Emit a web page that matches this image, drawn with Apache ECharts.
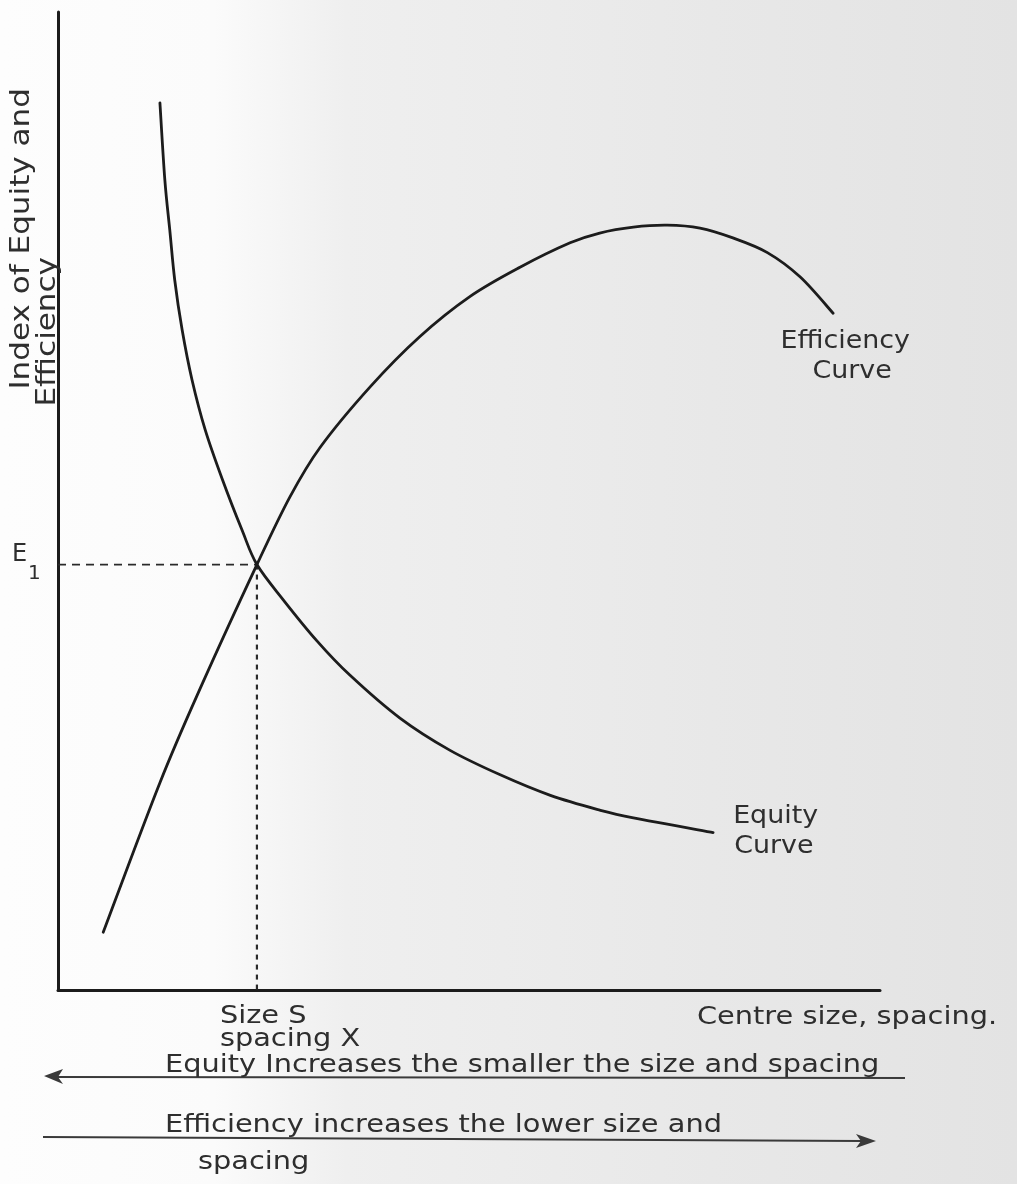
<!DOCTYPE html>
<html>
<head>
<meta charset="utf-8">
<title>Equity and Efficiency against Centre Size</title>
<script src="https://cdn.jsdelivr.net/npm/echarts@6/dist/echarts.min.js"></script>
<style>
  html, body { margin: 0; padding: 0; background: #ffffff; }
  #chart { width: 1017px; height: 1184px; }
</style>
</head>
<body>
<div id="chart"></div>
<script>
// Index values (0-100) against centre size / spacing (0-100)
const efficiencyX = [5.5, 12.4, 17.6, 24.2, 28.2, 31.9, 38.0, 44.0, 50.1, 56.2, 62.3, 65.9, 70.0, 74.1, 78.1, 82.1, 86.3, 90.3, 94.3];
const efficiencyY = [5.9, 21.2, 31.4, 43.5, 50.4, 55.5, 61.7, 66.8, 70.9, 73.9, 76.4, 77.4, 78.0, 78.2, 77.9, 76.9, 75.4, 72.9, 69.2];

const equityX = [12.4, 13.0, 13.6, 14.2, 15.1, 16.3, 17.9, 20.0, 22.4, 24.2, 27.4, 31.5, 35.5, 41.6, 47.7, 53.8, 59.9, 65.9, 70.0, 79.7];
const equityY = [90.7, 82.8, 77.7, 72.6, 67.5, 62.4, 57.3, 52.2, 47.0, 43.5, 39.9, 35.7, 32.2, 27.8, 24.5, 22.0, 19.9, 18.4, 17.6, 16.1];

// Where the two curves cross: size S / spacing X, index E1
const crossPoint = [24.2, 43.5];

const axisRange = { xMin: 0, xMax: 100, yMin: 0, yMax: 100 };

const zip = (xs, ys) => xs.map((x, i) => [x, ys[i]]);

const INK = '#1c1c1c';
const TEXT = '#2e2e2e';
const FONT = 'DejaVu Sans';

// Draws one curve as a Catmull-Rom spline through its points, in pixel space
function splineSeries(name, xs, ys) {
  return {
    name: name, type: 'custom', data: zip(xs, ys),
    encode: { x: 0, y: 1 }, z: 5, silent: true,
    renderItem: function (params, api) {
      if (params.dataIndex !== 0) return null;
      const p = xs.map((x, i) => api.coord([x, ys[i]]));
      let d = 'M' + p[0][0] + ' ' + p[0][1];
      for (let i = 0; i < p.length - 1; i++) {
        const p0 = p[Math.max(i - 1, 0)], p1 = p[i], p2 = p[i + 1], p3 = p[Math.min(i + 2, p.length - 1)];
        const c1x = p1[0] + (p2[0] - p0[0]) / 6, c1y = p1[1] + (p2[1] - p0[1]) / 6;
        const c2x = p2[0] - (p3[0] - p1[0]) / 6, c2y = p2[1] - (p3[1] - p1[1]) / 6;
        d += ' C' + c1x + ' ' + c1y + ' ' + c2x + ' ' + c2y + ' ' + p2[0] + ' ' + p2[1];
      }
      return {
        type: 'path', shape: { pathData: d },
        style: { stroke: INK, lineWidth: 2.8, fill: 'none', lineCap: 'round', lineJoin: 'round' }
      };
    }
  };
}

const chart = echarts.init(document.getElementById('chart'), null, { renderer: 'canvas' });

chart.setOption({
  animation: false,
  backgroundColor: {
    type: 'linear', x: 0, y: 0, x2: 1, y2: 0,
    colorStops: [
      { offset: 0, color: '#fdfdfd' },
      { offset: 0.21, color: '#fbfbfb' },
      { offset: 0.34, color: '#efefef' },
      { offset: 0.7, color: '#e8e8e8' },
      { offset: 1, color: '#e3e3e3' }
    ]
  },
  grid: { left: 58, right: 137, top: 12, bottom: 194 },
  xAxis: {
    type: 'value', min: axisRange.xMin, max: axisRange.xMax,
    axisLine: { show: true, lineStyle: { color: INK, width: 3 } },
    axisTick: { show: false }, axisLabel: { show: false }, splitLine: { show: false }
  },
  yAxis: {
    type: 'value', min: axisRange.yMin, max: axisRange.yMax,
    axisLine: { show: true, lineStyle: { color: INK, width: 3 } },
    axisTick: { show: false }, axisLabel: { show: false }, splitLine: { show: false }
  },
  series: [
    splineSeries('Efficiency Curve', efficiencyX, efficiencyY),
    splineSeries('Equity Curve', equityX, equityY),
    {
      name: 'E1 level', type: 'line',
      data: [[axisRange.xMin, crossPoint[1]], crossPoint],
      showSymbol: false, symbol: 'none',
      lineStyle: { color: '#2a2a2a', width: 1.8, type: [8, 6] }, z: 3
    },
    {
      name: 'Size S', type: 'line',
      data: [crossPoint, [crossPoint[0], axisRange.yMin]],
      showSymbol: false, symbol: 'none',
      lineStyle: { color: '#2a2a2a', width: 2.2, type: [5, 5] }, z: 3
    }
  ]
});

// Annotation text, placed relative to the curves where it labels them
const px = p => chart.convertToPixel({ gridIndex: 0 }, p);
const effEnd = px([efficiencyX[efficiencyX.length - 1], efficiencyY[efficiencyY.length - 1]]);
const eqEnd = px([equityX[equityX.length - 1], equityY[equityY.length - 1]]);
const cross = px(crossPoint);

function label(text, x, y, opts) {
  opts = opts || {};
  return {
    type: 'text', x: x, y: y,
    scaleX: opts.scaleX || 1, rotation: opts.rotation || 0,
    z: 10,
    style: {
      text: text, fill: opts.fill || TEXT,
      fontFamily: FONT, fontSize: opts.size || 21,
      align: opts.align || 'left', verticalAlign: opts.vAlign || 'middle'
    }
  };
}

const bottomText = { size: 24, scaleX: 1.2 };
const curveText = { size: 24, scaleX: 1.12, align: 'center' };

chart.setOption({
  graphic: [
    // vertical axis title
    label('Index of Equity and', 22, 88, { size: 27, scaleX: 1.15, rotation: Math.PI / 2, align: 'right' }),
    label('Efficiency', 48, 257, { size: 27, scaleX: 1.15, rotation: Math.PI / 2, align: 'right' }),

    // E1 marker on the vertical axis
    label('E', 12, cross[1] - 10, { size: 24 }),
    label('1', 28, cross[1] + 9, { size: 20 }),

    // curve names
    label('Efficiency', effEnd[0] + 12, effEnd[1] + 29, curveText),
    label('Curve', effEnd[0] + 19, effEnd[1] + 59, curveText),
    label('Equity', eqEnd[0] + 20, eqEnd[1] - 16, { size: 24, scaleX: 1.12 }),
    label('Curve', eqEnd[0] + 21, eqEnd[1] + 14, { size: 24, scaleX: 1.12 }),

    // horizontal axis annotations
    label('Size S', cross[0] - 37, 1017, bottomText),
    label('spacing X', cross[0] - 37, 1040, bottomText),
    label('Centre size, spacing.', 697, 1018, bottomText),

    // equity direction arrow (points left)
    label('Equity Increases the smaller the size and spacing', 165, 1066, bottomText),
    { type: 'line', z: 9, shape: { x1: 56, y1: 1077, x2: 905, y2: 1078 },
      style: { stroke: '#3a3a3a', lineWidth: 2 } },
    { type: 'polygon', z: 9, shape: { points: [[44, 1076], [63, 1069], [58, 1077], [63, 1084]] },
      style: { fill: '#3a3a3a' } },

    // efficiency direction arrow (points right)
    label('Efficiency increases the lower size and', 165, 1126, bottomText),
    label('spacing', 198, 1163, bottomText),
    { type: 'line', z: 9, shape: { x1: 43, y1: 1137, x2: 862, y2: 1141 },
      style: { stroke: '#3a3a3a', lineWidth: 2.2 } },
    { type: 'polygon', z: 9, shape: { points: [[876, 1141], [856, 1134], [861, 1141], [856, 1148]] },
      style: { fill: '#3a3a3a' } }
  ]
});
</script>
</body>
</html>
